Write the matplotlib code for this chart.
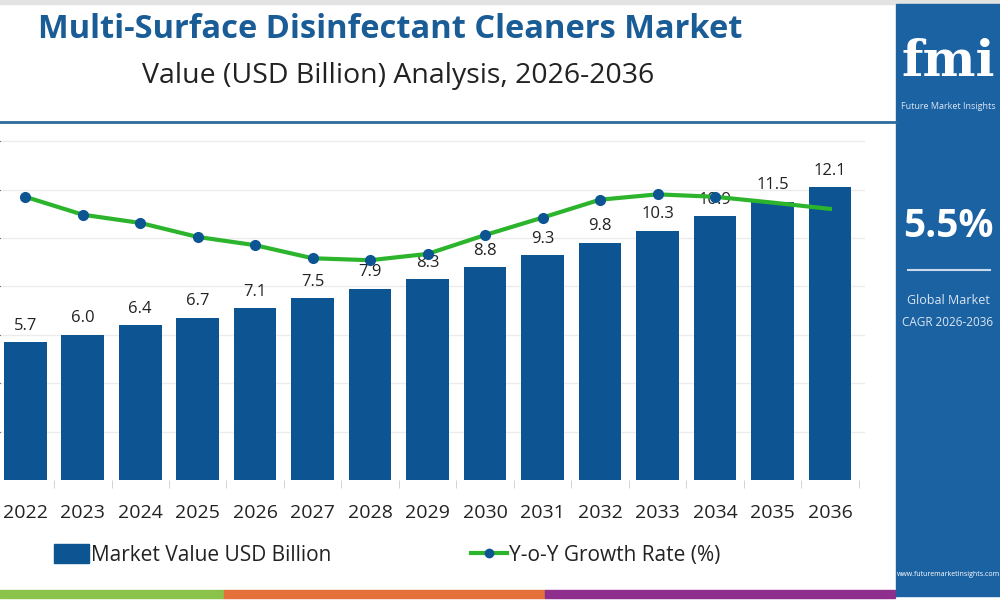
import matplotlib.pyplot as plt
from matplotlib.patches import Rectangle
from matplotlib.lines import Line2D

plt.rcParams['font.family'] = ['Open Sans', 'DejaVu Sans']

# data
years = ['2022', '2023', '2024', '2025', '2026', '2027', '2028', '2029',
         '2030', '2031', '2032', '2033', '2034', '2035', '2036']
market_value = [5.7, 6.0, 6.4, 6.7, 7.1, 7.5, 7.9, 8.3, 8.8, 9.3, 9.8,
                10.3, 10.9, 11.5, 12.1]
growth_rate = [5.85, 5.48, 5.31, 5.02, 4.85, 4.58, 4.54, 4.67, 5.06, 5.42,
               5.79, 5.90, 5.85, 5.73, 5.60]

bar_color = '#0d5592'
line_color = '#2cb52c'
title_color = '#1a5c96'
panel_color = '#1b62a3'

fig = plt.figure(figsize=(10, 6), dpi=100)

# chart axes
ax = fig.add_axes([0.0, 0.2, 0.865, 0.585])
x = list(range(len(years)))
ax.bar(x, market_value, width=0.74, color=bar_color, zorder=2)
for xi, v in zip(x, market_value):
    ax.annotate(f'{v:.1f}', (xi, v), xytext=(0, 6), textcoords='offset points',
                ha='center', va='bottom', fontsize=12, color='#222222', zorder=5)

ax.set_yticks([2, 4, 6, 8, 10, 12, 14])
ax.yaxis.grid(True, color='#ececec', linewidth=1, zorder=0)
ax.tick_params(axis='y', left=False, labelleft=False)
ax.set_xticks(x)
ax.set_xticklabels(years, fontsize=14, color='#222222')
ax.tick_params(axis='x', length=0, pad=17)
ax.set_xticks([i + 0.5 for i in x], minor=True)
ax.tick_params(axis='x', which='minor', length=6, color='#cccccc')
ax.set_xlim(-0.44, 14.61)
ax.set_ylim(0, 14.5)
for s in ax.spines.values():
    s.set_visible(False)

# growth rate on secondary axis
ax2 = ax.twinx()
ax2.set_ylim(0, 7.25)
ax2.plot(x, growth_rate, color=line_color, linewidth=3, marker='o',
         markersize=7, markerfacecolor=bar_color, markeredgecolor=bar_color,
         markevery=list(range(13)), zorder=3)
ax2.axis('off')

# titles
fig.text(0.39, 0.95, 'Multi-Surface Disinfectant Cleaners Market', ha='center',
         va='center', fontsize=23.5, fontweight='bold', color=title_color)
fig.text(0.398, 0.873, 'Value (USD Billion) Analysis, 2026-2036', ha='center',
         va='center', fontsize=20.5, color='#222222')

# decoration lines / strips
fig.add_artist(Line2D([0, 0.896], [1 - 122 / 600] * 2, color='#2f6a9a', lw=2))
fig.add_artist(Rectangle((0, 1 - 4 / 600), 1, 4 / 600, color='#e3e3e3'))
fig.add_artist(Rectangle((0, 2 / 600), 0.224, 8 / 600, color='#8bc34a'))
fig.add_artist(Rectangle((0.224, 2 / 600), 0.321, 8 / 600, color='#e4703a'))
fig.add_artist(Rectangle((0.545, 2 / 600), 0.35, 8 / 600, color='#8e2f8e'))

# legend
handles = [Rectangle((0, 0), 1, 1, color=bar_color),
           Line2D([0], [0], color=line_color, lw=3, marker='o', markersize=6,
                  markerfacecolor=bar_color, markeredgecolor=bar_color)]
fig.legend(handles, ['Market Value USD Billion', 'Y-o-Y Growth Rate (%)'],
           loc='center left', bbox_to_anchor=(0.035, 0.075), ncol=2,
           frameon=False, fontsize=15, handlelength=1.7, handleheight=1.0,
           handletextpad=0.1, columnspacing=6.7, labelcolor='#222222')

# side panel
fig.add_artist(Rectangle((0.896, 4 / 600), 0.104, 592 / 600, color=panel_color))
fig.text(0.948, 0.895, 'fmi', fontsize=36, fontweight='bold', color='white',
         family='DejaVu Serif', ha='center', va='center')
fig.text(0.948, 0.822, 'Future Market Insights', fontsize=6.5, color='#dbe6f2',
         ha='center', va='center')
fig.text(0.948, 0.622, '5.5%', fontsize=28, fontweight='bold', color='white',
         ha='center', va='center')
fig.add_artist(Line2D([0.908, 0.99], [1 - 270 / 600] * 2, color='#c9d9ea', lw=1.5))
fig.text(0.948, 0.5, 'Global Market', fontsize=9, color='#dbe6f2',
         ha='center', va='center')
fig.text(0.948, 0.463, 'CAGR 2026-2036', fontsize=8.5, color='#dbe6f2',
         ha='center', va='center')
fig.text(0.948, 0.042, 'www.futuremarketinsights.com', fontsize=5,
         color='white', ha='center', va='center')

fig.savefig('out.png', dpi=100)
